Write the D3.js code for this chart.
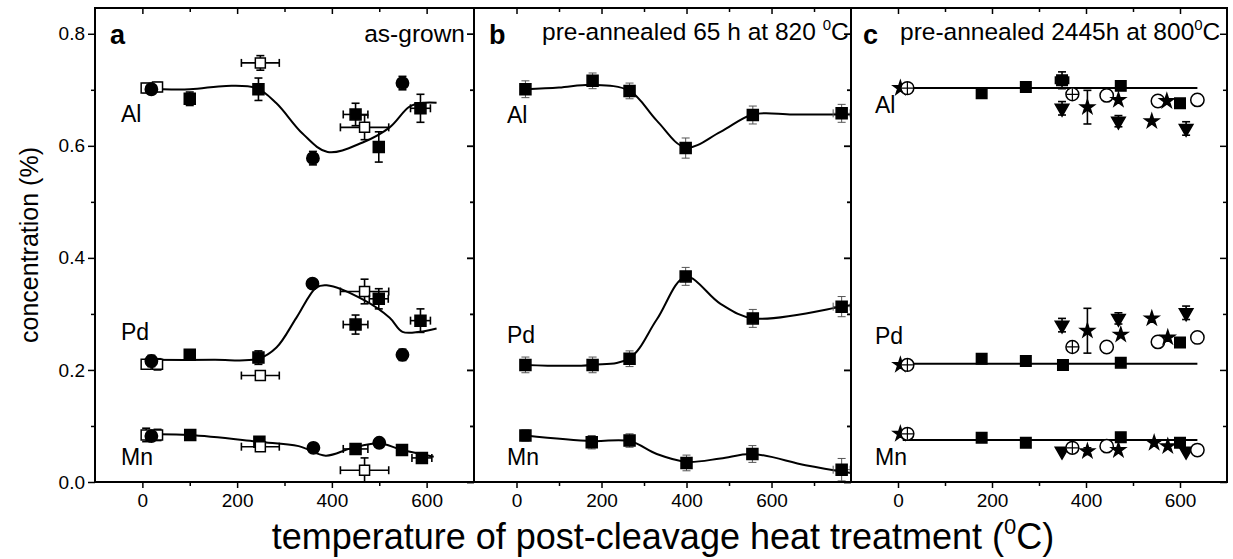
<!DOCTYPE html>
<html>
<head>
<meta charset="utf-8">
<script src="https://cdn.jsdelivr.net/npm/d3@7"></script>
<style>
body{margin:0;background:#fff;}
svg{display:block;font-family:"Liberation Sans",Arial,sans-serif;}
</style>
</head>
<body>
<svg width="1233" height="559"></svg>
<script>
// ---- data (x in degC, value in %) ----
var xTicks = [0,200,400,600];
var xMinor = [-100,100,300,500,700];
var yTicks = [0,0.2,0.4,0.6,0.8];
var yMinor = [0.1,0.3,0.5,0.7];
var elements = ["Al","Pd","Mn"];
var panelNames = ["a","b","c"];
var panelTitles = ["as-grown","pre-annealed 65 h at 820 ","pre-annealed 2445h at 800"];

// point rows: [series, x, value, xerr, yerr]
// panel a: fs = filled square, os = open square, fc = filled circle
var aAl = [
  ["os",8,0.703,8,0.008],["os",32,0.705,8,0.008],["fc",19,0.701,0,0.008],
  ["fs",100,0.684,0,0.012],["fs",245,0.701,0,0.02],["os",249,0.748,40,0.013],
  ["fc",360,0.578,0,0.012],["fs",450,0.656,26,0.02],["os",469,0.633,51,0.022],
  ["fs",499,0.598,0,0.027],["fc",549,0.712,0,0.012],["fs",587,0.667,21,0.025]
];
var aPd = [
  ["os",8,0.210,8,0.008],["os",32,0.210,8,0.010],["fc",19,0.216,0,0.01],
  ["fs",100,0.227,0,0.008],["fs",245,0.222,0,0.012],["os",249,0.190,40,0.008],
  ["fc",359,0.354,0,0.006],["fs",450,0.281,26,0.017],["os",469,0.340,51,0.022],
  ["fs",499,0.327,20,0.018],["fc",549,0.227,0,0.01],["fs",587,0.288,21,0.021]
];
var aMn = [
  ["os",8,0.084,8,0.012],["os",32,0.084,8,0.010],["fc",19,0.082,0,0.006],
  ["fs",101,0.084,0,0.006],["fs",247,0.072,0,0.008],["os",249,0.063,40,0.008],
  ["fc",361,0.061,0,0.008],["fs",450,0.059,26,0.008],["os",469,0.021,51,0.022],
  ["fc",500,0.070,0,0.006],["fs",548,0.057,0,0.006],["fs",590,0.043,21,0.006]
];
var aAlFit = [[4,0.702],[100,0.701],[177,0.707],[241,0.703],[283,0.676],[338,0.622],[391,0.589],[465,0.606],[522,0.633],[564,0.670],[595,0.677],[621,0.677]];
var aPdFit = [[4,0.218],[150,0.218],[245,0.220],[283,0.240],[325,0.293],[367,0.347],[389,0.351],[469,0.324],[522,0.293],[549,0.268],[585,0.268],[621,0.274]];
var aMnFit = [[4,0.085],[100,0.084],[245,0.072],[330,0.064],[387,0.047],[440,0.060],[500,0.069],[545,0.058],[615,0.045]];

// panel b
var bAl = [["fs",21,0.701,0,0.015],["fs",179,0.716,0,0.014],["fs",266,0.698,0,0.014],["fs",398,0.596,0,0.018],["fs",556,0.655,0,0.016],["fs",765,0.658,20,0.016]];
var bPd = [["fs",21,0.209,0,0.014],["fs",179,0.209,0,0.014],["fs",266,0.220,0,0.014],["fs",398,0.367,0,0.016],["fs",556,0.292,0,0.016],["fs",765,0.313,20,0.018]];
var bMn = [["fs",21,0.083,0,0.010],["fs",177,0.071,0,0.012],["fs",266,0.074,0,0.012],["fs",400,0.034,0,0.014],["fs",555,0.050,0,0.015],["fs",765,0.022,20,0.020]];
var bAlFit = [[21,0.701],[100,0.704],[179,0.709],[266,0.698],[330,0.645],[398,0.597],[480,0.625],[556,0.656],[650,0.656],[787,0.656]];
var bPdFit = [[21,0.209],[179,0.209],[266,0.221],[330,0.290],[398,0.366],[480,0.318],[556,0.292],[765,0.313],[787,0.316]];
var bMnFit = [[21,0.083],[177,0.073],[266,0.073],[330,0.050],[400,0.036],[480,0.042],[555,0.050],[680,0.030],[787,0.016]];

// panel c: sq = filled square, ocx = crossed circle, tri = down triangle, star, oc = open circle
var cAl = [
  ["star",5,0.703,0,0],["ocx",20,0.703,0,0],["sq",178,0.694,0,0],["sq",272,0.705,0,0],
  ["sq",349,0.717,14,0.015],["tri",349,0.667,0,0.012],["ocx",371,0.692,0,0],["star",403,0.669,0,0.03],
  ["oc",444,0.690,0,0],["sq",474,0.707,0,0],["star",469,0.682,0,0],["tri",469,0.644,0,0.01],
  ["star",540,0.644,0,0],["oc",553,0.680,0,0],["star",572,0.680,0,0],["sq",600,0.676,0,0],
  ["tri",613,0.631,0,0.012],["oc",637,0.682,0,0]
];
var cPd = [
  ["star",5,0.209,0,0],["ocx",20,0.209,0,0],["sq",178,0.220,0,0],["sq",272,0.216,0,0],
  ["sq",351,0.209,0,0],["sq",474,0.213,0,0],["tri",349,0.280,0,0.012],["ocx",371,0.241,0,0],
  ["star",403,0.270,0,0.04],["oc",444,0.241,0,0],["tri",469,0.292,0,0.01],["star",474,0.263,0,0],
  ["star",540,0.292,0,0],["oc",553,0.250,0,0],["star",574,0.258,0,0],["sq",600,0.249,0,0],
  ["tri",613,0.302,0,0.012],["oc",637,0.258,0,0]
];
var cMn = [
  ["star",5,0.086,0,0],["ocx",20,0.086,0,0],["sq",178,0.079,0,0],["sq",272,0.070,0,0],
  ["tri",349,0.055,0,0],["ocx",371,0.061,0,0],["star",403,0.055,0,0.006],["oc",444,0.064,0,0],
  ["sq",474,0.080,0,0],["star",469,0.057,0,0],["star",545,0.070,0,0],["star",574,0.064,0,0],
  ["sq",600,0.070,0,0],["tri",613,0.055,0,0],["oc",637,0.057,0,0]
];
var cAlFit = [[10,0.703],[637,0.703]];
var cPdFit = [[10,0.211],[637,0.211]];
var cMnFit = [[10,0.075],[637,0.075]];

var pointSets = [[aAl,aPd,aMn],[bAl,bPd,bMn],[cAl,cPd,cMn]];
var fitSets = [[aAlFit,aPdFit,aMnFit],[bAlFit,bPdFit,bMnFit],[cAlFit,cPdFit,cMnFit]];
var panelDomains = [[-100,700],[-100,787],[-100,700]];

// ---- layout ----
var svg = d3.select("svg");
var yTop = 8, yBot = 482;
var edges = [95,474,851,1227];
var labelY = [[122,340,465],[123,343,465],[113,344,465]];
var labelX = [121,507,875];

var y = d3.scaleLinear().domain([0,0.846]).range([yBot,yTop]);

var shapes = {
  fs:{t:d3.symbolSquare,s:121,fill:"#000"},
  os:{t:d3.symbolSquare,s:100,fill:"#fff"},
  fc:{t:d3.symbolCircle,s:120,fill:"#000"},
  sq:{t:d3.symbolSquare,s:110,fill:"#000"},
  ocx:{t:d3.symbolCircle,s:130,fill:"#fff"},
  oc:{t:d3.symbolCircle,s:140,fill:"#fff"},
  tri:{t:d3.symbolTriangle,s:80,fill:"#000",rot:180},
  star:{t:d3.symbolStar,s:60,fill:"#000"}
};

svg.append("defs").selectAll("clipPath").data(panelNames).enter()
  .append("clipPath").attr("id",function(d){return "clip-"+d;})
  .append("rect")
  .attr("x",function(d,i){return edges[i];})
  .attr("y",yTop)
  .attr("width",function(d,i){return edges[i+1]-edges[i];})
  .attr("height",yBot-yTop);

function styleText(sel){
  sel.style("font-size","19px").style("font-family","'Liberation Sans',Arial,sans-serif").attr("fill","#000");
}

panelNames.forEach(function(name,p){
  var x = d3.scaleLinear().domain(panelDomains[p]).range([edges[p],edges[p+1]]);
  var g = svg.append("g").attr("clip-path","url(#clip-"+name+")");
  var errCol = p==1 ? "#555" : "#000";
  var errW = p==1 ? 1 : 1.6;

  var line = d3.line()
    .x(function(d){return x(d[0]);})
    .y(function(d){return y(d[1]);})
    .curve(p==2 ? d3.curveLinear : d3.curveCatmullRom.alpha(0.5));

  fitSets[p].forEach(function(f){
    g.append("path").attr("d",line(f))
      .attr("fill","none").attr("stroke","#000").attr("stroke-width",2);
  });

  pointSets[p].forEach(function(set){
    var pts = g.append("g").selectAll("g").data(set).enter().append("g");
    // vertical error bars
    pts.filter(function(d){return d[4]>0;}).each(function(d){
      var e = d3.select(this), cx = x(d[1]);
      var y1 = y(d[2]-d[4]), y2 = y(d[2]+d[4]);
      e.append("line").attr("x1",cx).attr("x2",cx).attr("y1",y1).attr("y2",y2);
      e.append("line").attr("x1",cx-4).attr("x2",cx+4).attr("y1",y1).attr("y2",y1);
      e.append("line").attr("x1",cx-4).attr("x2",cx+4).attr("y1",y2).attr("y2",y2);
    });
    // horizontal error bars
    pts.filter(function(d){return d[3]>0;}).each(function(d){
      var e = d3.select(this), cy = y(d[2]);
      var x1 = x(d[1]-d[3]), x2 = x(d[1]+d[3]);
      e.append("line").attr("x1",x1).attr("x2",x2).attr("y1",cy).attr("y2",cy);
      e.append("line").attr("x1",x1).attr("x2",x1).attr("y1",cy-4).attr("y2",cy+4);
      e.append("line").attr("x1",x2).attr("x2",x2).attr("y1",cy-4).attr("y2",cy+4);
    });
    pts.selectAll("line").attr("stroke",errCol).attr("stroke-width",errW);

    pts.append("path")
      .attr("transform",function(d){
        var sh = shapes[d[0]];
        return "translate("+x(d[1])+","+y(d[2])+")"+(sh.rot?" rotate("+sh.rot+")":"");
      })
      .attr("d",function(d){var sh=shapes[d[0]];return d3.symbol().type(sh.t).size(sh.s)();})
      .attr("fill",function(d){return shapes[d[0]].fill;})
      .attr("stroke","#000").attr("stroke-width",1.5);
    pts.filter(function(d){return d[0]=="ocx";}).each(function(d){
      var e = d3.select(this), cx = x(d[1]), cy = y(d[2]);
      e.append("path").attr("d","M"+(cx-6)+","+cy+"H"+(cx+6)+"M"+cx+","+(cy-6)+"V"+(cy+6))
        .attr("stroke","#000").attr("stroke-width",1.2);
    });
  });

  // axes: ticks only
  function ax(axis,tx,ty,vals,size){
    var a = svg.append("g").attr("transform","translate("+tx+","+ty+")")
      .call(axis.tickValues(vals).tickSize(size).tickFormat(""));
    a.select(".domain").remove();
    a.selectAll("line").attr("stroke","#000").attr("stroke-width",1.5);
    return a;
  }
  var minorX = xMinor.filter(function(v){return v>panelDomains[p][0]&&v<panelDomains[p][1];});
  ax(d3.axisBottom(x),0,yBot,xTicks,6);
  ax(d3.axisBottom(x),0,yBot,minorX,4);
  ax(d3.axisBottom(x),0,yTop,xTicks,6);
  ax(d3.axisBottom(x),0,yTop,minorX,4);
  ax(d3.axisLeft(y),edges[p],0,yTicks,7);
  ax(d3.axisLeft(y),edges[p],0,yMinor,4);
  ax(d3.axisLeft(y),edges[p+1],0,yTicks,7);
  ax(d3.axisLeft(y),edges[p+1],0,yMinor,4);

  var xl = svg.append("g").attr("transform","translate(0,"+yBot+")")
    .call(d3.axisBottom(x).tickValues(xTicks).tickSize(6).tickPadding(6));
  xl.select(".domain").remove();
  xl.selectAll("line").remove();
  styleText(xl.selectAll("text"));

  if(p==0){
    var yl = svg.append("g").attr("transform","translate("+edges[0]+",0)")
      .call(d3.axisLeft(y).tickValues(yTicks).tickSize(7).tickPadding(3).tickFormat(d3.format(".1f")));
    yl.select(".domain").remove();
    yl.selectAll("line").remove();
    styleText(yl.selectAll("text"));
  }

  // panel letter and title
  svg.append("text").attr("x",edges[p]+(p==2?12:15)).attr("y",44)
    .attr("font-size",27).attr("font-weight","bold").text(name);
  var t = svg.append("text").attr("font-size",24.5).attr("y",p==0?42:40);
  if(p==0){
    t.attr("x",edges[1]-9).attr("text-anchor","end").text(panelTitles[p]);
  } else {
    t.attr("x",p==1?542:900).text(panelTitles[p]);
    t.append("tspan").attr("font-size",15).attr("dy",-10).text("0");
    t.append("tspan").attr("dy",10).text("C");
  }

  elements.forEach(function(el,k){
    svg.append("text").attr("x",labelX[p]).attr("y",labelY[p][k])
      .attr("font-size",23).text(el);
  });
});

// frames
for(var i=0;i<3;i++){
  svg.append("rect").attr("x",edges[i]).attr("y",yTop)
    .attr("width",edges[i+1]-edges[i]).attr("height",yBot-yTop)
    .attr("fill","none").attr("stroke","#000").attr("stroke-width",2);
}

// axis titles
svg.append("text").attr("transform","translate(38,245) rotate(-90)")
  .attr("text-anchor","middle").attr("font-size",25).text("concentration (%)");
var xt = svg.append("text").attr("x",663).attr("y",549).attr("text-anchor","middle")
  .attr("font-size",36).text("temperature of post-cleavage heat treatment (");
xt.append("tspan").attr("font-size",22).attr("dy",-15).text("0");
xt.append("tspan").attr("dy",15).text("C)");
</script>
</body>
</html>
